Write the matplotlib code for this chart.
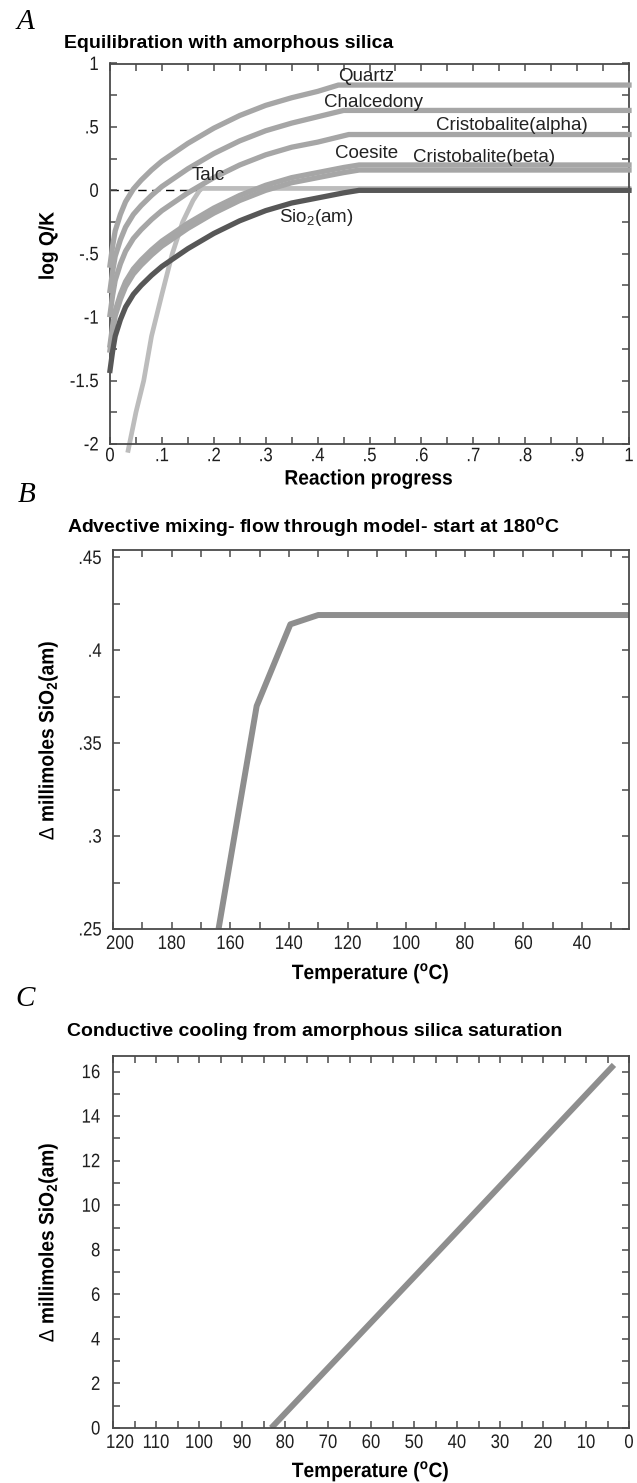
import matplotlib
matplotlib.use("Agg")
import matplotlib.pyplot as plt
from matplotlib import font_manager
from matplotlib.ticker import MultipleLocator, FuncFormatter
from matplotlib.patheffects import AbstractPathEffect
from matplotlib.transforms import Affine2D, ScaledTranslation

# --- data ---
# A: log Q/K vs reaction progress
prog = [0, .005, .01, .02, .03, .045, .06, .08, .1, .125, .15, .175, .2, .25, .3, .35, .4]
quartz_x = prog + [.44, 1.0]
quartz_y = [-0.59, -0.44, -0.32, -0.19, -0.09, 0.01, 0.08, 0.16, 0.23, 0.30, 0.37, 0.43,
            0.49, 0.59, 0.67, 0.73, 0.78, 0.83, 0.83]
chalc_x = prog + [.45, 1.0]
chalc_y = [-0.79, -0.64, -0.52, -0.39, -0.29, -0.19, -0.12, -0.04, 0.03, 0.10, 0.17, 0.23,
           0.29, 0.39, 0.47, 0.53, 0.58, 0.63, 0.63]
alpha_x = prog + [.46, 1.0]
alpha_y = [-0.98, -0.83, -0.71, -0.58, -0.48, -0.38, -0.31, -0.23, -0.16, -0.09, -0.02, 0.04,
           0.10, 0.20, 0.28, 0.34, 0.38, 0.44, 0.44]
coes_x = prog + [.45, .48, 1.0]
coes_y = [-1.22, -1.07, -0.95, -0.82, -0.72, -0.62, -0.55, -0.47, -0.40, -0.33, -0.26, -0.20,
          -0.14, -0.04, 0.04, 0.10, 0.14, 0.18, 0.20, 0.20]
beta_x = prog + [.45, .48, 1.0]
beta_y = [-1.26, -1.11, -0.99, -0.86, -0.76, -0.66, -0.59, -0.51, -0.44, -0.37, -0.30, -0.24,
          -0.18, -0.08, 0.0, 0.06, 0.10, 0.14, 0.16, 0.16]
sio2_x = prog + [.45, .48, 1.0]
sio2_y = [-1.42, -1.27, -1.15, -1.02, -0.92, -0.82, -0.75, -0.67, -0.60, -0.53, -0.46, -0.40,
          -0.34, -0.24, -0.16, -0.10, -0.06, -0.02, 0, 0]
talc_x = [0.035, 0.05, 0.065, 0.08, 0.1, 0.12, 0.14, 0.16, 0.175, 1.0]
talc_y = [-2.05, -1.75, -1.5, -1.15, -0.82, -0.5, -0.25, -0.08, 0.015, 0.015]

# B: advective mixing
adv_T = [164, 151, 139.5, 130, 24]
adv_v = [0.25, 0.37, 0.414, 0.419, 0.419]

# C: conductive cooling
cond_T = [83.2, 43, 3.5]
cond_v = [0, 8.2, 16.3]

W, H = 637, 1483
names = {f.name for f in font_manager.fontManager.ttflist}
base = 'Liberation Sans Narrow' if 'Liberation Sans Narrow' in names else 'Liberation Sans'
plt.rcParams['font.family'] = [base, 'DejaVu Sans']
plt.rcParams['mathtext.fontset'] = 'custom'
plt.rcParams['mathtext.rm'] = base
plt.rcParams['mathtext.bf'] = base + ':bold'


class Squeeze(AbstractPathEffect):
    # narrow the glyphs horizontally (condensed look)
    def __init__(self, sx=0.88, anchor='center'):
        super().__init__()
        self.sx = sx
        self.anchor = anchor

    def draw_path(self, renderer, gc, tpath, affine, rgbFace=None):
        ext = tpath.get_extents()
        cx = {'left': ext.x0, 'center': 0.5 * (ext.x0 + ext.x1), 'right': ext.x1}[self.anchor]
        t = Affine2D().translate(-cx, 0).scale(self.sx, 1).translate(cx, 0) + affine
        renderer.draw_path(gc, tpath, t, rgbFace)


fig = plt.figure(figsize=(W / 100, H / 100), dpi=100)
fig.patch.set_facecolor('white')

def box(x0, y0, x1, y1):
    return [x0 / W, 1 - y1 / H, (x1 - x0) / W, (y1 - y0) / H]

def ftext(x, y, s, sq=None, anchor='center', **kw):
    if sq:
        kw['path_effects'] = [Squeeze(sq, anchor)]
    fig.text(x / W, 1 - y / H, s, **kw)

def fmt(v, pos):
    s = f"{v:g}"
    if s.startswith("0."):
        s = s[1:]
    elif s.startswith("-0."):
        s = "-" + s[2:]
    return s

def style(ax, xpad, ypad, first_shift=0):
    for sp in ax.spines.values():
        sp.set_color('#4a4a4a')
        sp.set_linewidth(1.3)
    ax.tick_params(which='both', direction='in', top=True, right=True,
                   length=5, width=1.1, color='#4a4a4a', labelsize=14, labelcolor='#1e1e1e')
    ax.tick_params(axis='x', pad=xpad)
    ax.tick_params(axis='y', pad=ypad)
    ax.xaxis.set_major_formatter(FuncFormatter(fmt))
    ax.yaxis.set_major_formatter(FuncFormatter(fmt))
    xt = ax.xaxis.get_major_ticks()
    for t in xt:
        t.label1.set_path_effects([Squeeze(0.86, 'center')])
    for t in ax.yaxis.get_major_ticks():
        t.label1.set_path_effects([Squeeze(0.86, 'right')])
    if first_shift:
        lab = xt[0].label1
        lab.set_transform(lab.get_transform() + ScaledTranslation(first_shift / 100, 0, fig.dpi_scale_trans))

gray = '#a6a6a6'
lab_kw = dict(fontsize=15, fontweight='bold', ha='center', va='center', sq=0.92)
ttl_kw = dict(fontsize=14, fontweight='bold', ha='left', va='center')
let_kw = dict(fontsize=21, style='italic', family='Liberation Serif', ha='center', va='center')

# ---------------- A ----------------
axA = fig.add_axes(box(110, 63.5, 629, 444))
axA.plot([0, 0.18], [0, 0], color='black', lw=1, dashes=(6, 4), zorder=1)
axA.plot(talc_x, talc_y, color='#bcbcbc', lw=3.4, zorder=2, solid_capstyle='projecting', clip_on=False)
for xs, ys in [(quartz_x, quartz_y), (chalc_x, chalc_y), (alpha_x, alpha_y),
               (coes_x, coes_y), (beta_x, beta_y)]:
    axA.plot(xs, ys, color=gray, lw=3.8, zorder=3, solid_capstyle='projecting',
             solid_joinstyle='round', clip_on=False)
axA.plot(sio2_x, sio2_y, color='#575757', lw=3.8, zorder=4, solid_capstyle='projecting',
         solid_joinstyle='round', clip_on=False)
axA.set_xlim(0, 1)
axA.set_ylim(-2, 1)
axA.set_xticks([0, .1, .2, .3, .4, .5, .6, .7, .8, .9, 1])
axA.xaxis.set_minor_locator(MultipleLocator(0.05))
axA.set_yticks([-2, -1.5, -1, -.5, 0, .5, 1])
axA.yaxis.set_minor_locator(MultipleLocator(0.25))
style(axA, 3, 8)
tk = dict(fontsize=13.5, ha='center', va='center', color='#222222')
axA.text(0.494, 0.896, 'Quartz', **tk)
axA.text(0.507, 0.69, 'Chalcedony', **tk)
axA.text(0.775, 0.508, 'Cristobalite(alpha)', **tk)
axA.text(0.495, 0.29, 'Coesite', **tk)
axA.text(0.72, 0.26, 'Cristobalite(beta)', **tk)
axA.text(0.19, 0.118, 'Talc', **tk)
axA.text(0.397, -0.215, 'Sio$_2$(am)', **tk)

ftext(25, 22, 'A', **let_kw)
ftext(64, 43, 'Equilibration with amorphous silica', **ttl_kw)
ftext(369, 479, 'Reaction progress', **lab_kw)
ftext(48, 246, 'log Q/K', rotation=90, **lab_kw)

# ---------------- B ----------------
axB = fig.add_axes(box(113, 550, 629, 929))
axB.plot(adv_T, adv_v, color='#8e8e8e', lw=4.3, solid_capstyle='butt')
axB.set_xlim(200, 24)
axB.set_ylim(0.25, 0.454)
axB.set_xticks([200, 180, 160, 140, 120, 100, 80, 60, 40])
axB.xaxis.set_minor_locator(MultipleLocator(10))
axB.set_yticks([.25, .3, .35, .4, .45])
axB.yaxis.set_minor_locator(MultipleLocator(0.025))
style(axB, 5, 8, first_shift=7)

ftext(27, 495, 'B', **let_kw)
ftext(67, 528, r'Advective mixing- flow through model- start at 180$^\mathbf{o}$C', **ttl_kw)
ftext(371, 973, r'Temperature ($^\mathbf{o}$C)', **lab_kw)
ftext(48, 740, r'$\Delta$ millimoles SiO$_\mathbf{2}$(am)', rotation=90, **lab_kw)

# ---------------- C ----------------
axC = fig.add_axes(box(113, 1056, 629, 1428))
axC.plot(cond_T, cond_v, color='#8e8e8e', lw=4.3, solid_capstyle='butt')
axC.set_xlim(120, 0)
axC.set_ylim(0, 16.7)
axC.set_xticks([120, 110, 100, 90, 80, 70, 60, 50, 40, 30, 20, 10, 0])
axC.xaxis.set_minor_locator(MultipleLocator(5))
axC.set_yticks([0, 2, 4, 6, 8, 10, 12, 14, 16])
axC.yaxis.set_minor_locator(MultipleLocator(1))
style(axC, 5, 9, first_shift=7)

ftext(25, 999, 'C', **let_kw)
ftext(67, 1032, 'Conductive cooling from amorphous silica saturation', **ttl_kw)
ftext(371, 1471, r'Temperature ($^\mathbf{o}$C)', **lab_kw)
ftext(48, 1242, r'$\Delta$ millimoles SiO$_\mathbf{2}$(am)', rotation=90, **lab_kw)

fig.savefig('out.png', dpi=100, facecolor='white')
